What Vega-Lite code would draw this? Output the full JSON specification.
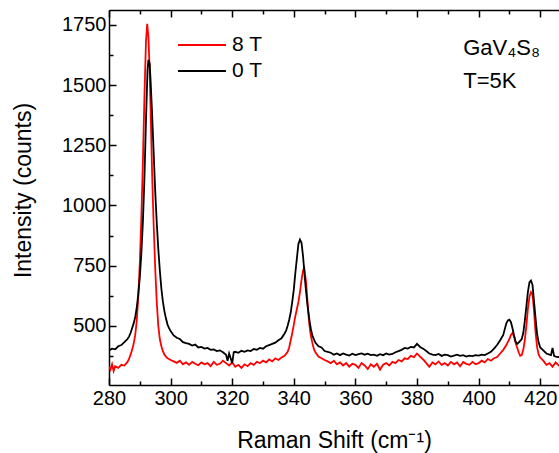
{
  "$schema": "https://vega.github.io/schema/vega-lite/v6.json",
  "width": 450,
  "height": 375,
  "autosize": "none",
  "padding": {"left": 109, "top": 10, "right": 0, "bottom": 68},
  "background": "white",
  "config": {"view": {"stroke": null}, "font": "Liberation Sans"},
  "data": {"values": [
    {"f":"0 T","x":280,"y":398},{"f":"0 T","x":281,"y":405},{"f":"0 T","x":282,"y":402},{"f":"0 T","x":283,"y":415},{"f":"0 T","x":284,"y":420},{"f":"0 T","x":285,"y":432},{"f":"0 T","x":286,"y":445},{"f":"0 T","x":286.5,"y":455},{"f":"0 T","x":287,"y":470},{"f":"0 T","x":287.5,"y":490},{"f":"0 T","x":288,"y":510},{"f":"0 T","x":288.5,"y":535},{"f":"0 T","x":289,"y":575},{"f":"0 T","x":289.5,"y":630},{"f":"0 T","x":290,"y":700},{"f":"0 T","x":290.5,"y":800},{"f":"0 T","x":291,"y":930},{"f":"0 T","x":291.5,"y":1110},{"f":"0 T","x":292,"y":1350},{"f":"0 T","x":292.5,"y":1560},{"f":"0 T","x":292.8,"y":1605},{"f":"0 T","x":293.2,"y":1590},{"f":"0 T","x":293.5,"y":1520},{"f":"0 T","x":294,"y":1380},{"f":"0 T","x":294.5,"y":1220},{"f":"0 T","x":295,"y":1060},{"f":"0 T","x":295.5,"y":930},{"f":"0 T","x":296,"y":820},{"f":"0 T","x":296.5,"y":730},{"f":"0 T","x":297,"y":655},{"f":"0 T","x":297.5,"y":600},{"f":"0 T","x":298,"y":560},{"f":"0 T","x":298.5,"y":530},{"f":"0 T","x":299,"y":505},{"f":"0 T","x":299.5,"y":490},{"f":"0 T","x":300,"y":478},{"f":"0 T","x":301,"y":460},{"f":"0 T","x":302,"y":450},{"f":"0 T","x":303,"y":445},{"f":"0 T","x":304,"y":432},{"f":"0 T","x":305,"y":428},{"f":"0 T","x":306,"y":425},{"f":"0 T","x":307,"y":418},{"f":"0 T","x":308,"y":422},{"f":"0 T","x":309,"y":410},{"f":"0 T","x":310,"y":412},{"f":"0 T","x":311,"y":405},{"f":"0 T","x":312,"y":408},{"f":"0 T","x":313,"y":400},{"f":"0 T","x":314,"y":402},{"f":"0 T","x":315,"y":395},{"f":"0 T","x":316,"y":398},{"f":"0 T","x":317,"y":390},{"f":"0 T","x":318,"y":380},{"f":"0 T","x":318.5,"y":355},{"f":"0 T","x":319,"y":385},{"f":"0 T","x":319.5,"y":365},{"f":"0 T","x":320,"y":345},{"f":"0 T","x":320.5,"y":390},{"f":"0 T","x":321,"y":392},{"f":"0 T","x":322,"y":388},{"f":"0 T","x":323,"y":396},{"f":"0 T","x":324,"y":392},{"f":"0 T","x":325,"y":398},{"f":"0 T","x":326,"y":395},{"f":"0 T","x":327,"y":404},{"f":"0 T","x":328,"y":400},{"f":"0 T","x":329,"y":408},{"f":"0 T","x":330,"y":405},{"f":"0 T","x":331,"y":415},{"f":"0 T","x":332,"y":420},{"f":"0 T","x":333,"y":425},{"f":"0 T","x":334,"y":430},{"f":"0 T","x":335,"y":440},{"f":"0 T","x":336,"y":448},{"f":"0 T","x":337,"y":468},{"f":"0 T","x":337.5,"y":480},{"f":"0 T","x":338,"y":500},{"f":"0 T","x":338.5,"y":525},{"f":"0 T","x":339,"y":555},{"f":"0 T","x":339.5,"y":600},{"f":"0 T","x":340,"y":650},{"f":"0 T","x":340.5,"y":720},{"f":"0 T","x":341,"y":780},{"f":"0 T","x":341.5,"y":840},{"f":"0 T","x":342,"y":858},{"f":"0 T","x":342.5,"y":845},{"f":"0 T","x":343,"y":790},{"f":"0 T","x":343.5,"y":710},{"f":"0 T","x":344,"y":640},{"f":"0 T","x":344.5,"y":580},{"f":"0 T","x":345,"y":530},{"f":"0 T","x":345.5,"y":490},{"f":"0 T","x":346,"y":460},{"f":"0 T","x":346.5,"y":445},{"f":"0 T","x":347,"y":430},{"f":"0 T","x":348,"y":415},{"f":"0 T","x":349,"y":410},{"f":"0 T","x":350,"y":395},{"f":"0 T","x":351,"y":392},{"f":"0 T","x":352,"y":388},{"f":"0 T","x":353,"y":380},{"f":"0 T","x":354,"y":385},{"f":"0 T","x":355,"y":378},{"f":"0 T","x":356,"y":385},{"f":"0 T","x":357,"y":380},{"f":"0 T","x":358,"y":376},{"f":"0 T","x":359,"y":384},{"f":"0 T","x":360,"y":378},{"f":"0 T","x":361,"y":382},{"f":"0 T","x":362,"y":385},{"f":"0 T","x":363,"y":380},{"f":"0 T","x":364,"y":384},{"f":"0 T","x":365,"y":378},{"f":"0 T","x":366,"y":380},{"f":"0 T","x":367,"y":375},{"f":"0 T","x":368,"y":382},{"f":"0 T","x":369,"y":378},{"f":"0 T","x":370,"y":385},{"f":"0 T","x":371,"y":380},{"f":"0 T","x":372,"y":383},{"f":"0 T","x":373,"y":390},{"f":"0 T","x":374,"y":395},{"f":"0 T","x":375,"y":400},{"f":"0 T","x":376,"y":408},{"f":"0 T","x":377,"y":405},{"f":"0 T","x":378,"y":412},{"f":"0 T","x":379,"y":410},{"f":"0 T","x":380,"y":425},{"f":"0 T","x":381,"y":412},{"f":"0 T","x":382,"y":405},{"f":"0 T","x":383,"y":395},{"f":"0 T","x":384,"y":385},{"f":"0 T","x":385,"y":380},{"f":"0 T","x":386,"y":378},{"f":"0 T","x":387,"y":383},{"f":"0 T","x":388,"y":375},{"f":"0 T","x":389,"y":380},{"f":"0 T","x":390,"y":378},{"f":"0 T","x":391,"y":372},{"f":"0 T","x":392,"y":376},{"f":"0 T","x":393,"y":380},{"f":"0 T","x":394,"y":375},{"f":"0 T","x":395,"y":378},{"f":"0 T","x":396,"y":372},{"f":"0 T","x":397,"y":376},{"f":"0 T","x":398,"y":374},{"f":"0 T","x":399,"y":378},{"f":"0 T","x":400,"y":376},{"f":"0 T","x":401,"y":380},{"f":"0 T","x":402,"y":378},{"f":"0 T","x":403,"y":385},{"f":"0 T","x":404,"y":392},{"f":"0 T","x":405,"y":405},{"f":"0 T","x":406,"y":420},{"f":"0 T","x":407,"y":440},{"f":"0 T","x":408,"y":462},{"f":"0 T","x":409,"y":510},{"f":"0 T","x":409.5,"y":522},{"f":"0 T","x":410,"y":525},{"f":"0 T","x":410.5,"y":515},{"f":"0 T","x":411,"y":490},{"f":"0 T","x":411.5,"y":460},{"f":"0 T","x":412,"y":435},{"f":"0 T","x":412.5,"y":425},{"f":"0 T","x":413,"y":430},{"f":"0 T","x":414,"y":445},{"f":"0 T","x":414.5,"y":470},{"f":"0 T","x":415,"y":520},{"f":"0 T","x":415.5,"y":580},{"f":"0 T","x":416,"y":640},{"f":"0 T","x":416.5,"y":680},{"f":"0 T","x":417,"y":688},{"f":"0 T","x":417.5,"y":670},{"f":"0 T","x":418,"y":600},{"f":"0 T","x":418.5,"y":530},{"f":"0 T","x":419,"y":465},{"f":"0 T","x":419.5,"y":430},{"f":"0 T","x":420,"y":410},{"f":"0 T","x":421,"y":398},{"f":"0 T","x":422,"y":385},{"f":"0 T","x":423,"y":380},{"f":"0 T","x":423.5,"y":378},{"f":"0 T","x":424,"y":408},{"f":"0 T","x":424.5,"y":375},{"f":"0 T","x":425,"y":372},{"f":"0 T","x":426,"y":370},{"f":"0 T","x":427,"y":372},
    {"f":"8 T","x":280,"y":330},{"f":"8 T","x":280.5,"y":318},{"f":"8 T","x":281,"y":340},{"f":"8 T","x":281.5,"y":312},{"f":"8 T","x":282,"y":332},{"f":"8 T","x":283,"y":325},{"f":"8 T","x":284,"y":338},{"f":"8 T","x":285,"y":335},{"f":"8 T","x":286,"y":350},{"f":"8 T","x":286.5,"y":362},{"f":"8 T","x":287,"y":380},{"f":"8 T","x":287.5,"y":400},{"f":"8 T","x":288,"y":425},{"f":"8 T","x":288.5,"y":460},{"f":"8 T","x":289,"y":520},{"f":"8 T","x":289.5,"y":620},{"f":"8 T","x":290,"y":760},{"f":"8 T","x":290.5,"y":950},{"f":"8 T","x":291,"y":1180},{"f":"8 T","x":291.5,"y":1450},{"f":"8 T","x":292,"y":1680},{"f":"8 T","x":292.4,"y":1755},{"f":"8 T","x":292.8,"y":1700},{"f":"8 T","x":293.2,"y":1560},{"f":"8 T","x":293.6,"y":1350},{"f":"8 T","x":294,"y":1130},{"f":"8 T","x":294.5,"y":920},{"f":"8 T","x":295,"y":740},{"f":"8 T","x":295.5,"y":600},{"f":"8 T","x":296,"y":500},{"f":"8 T","x":296.5,"y":445},{"f":"8 T","x":297,"y":415},{"f":"8 T","x":297.5,"y":395},{"f":"8 T","x":298,"y":380},{"f":"8 T","x":298.5,"y":372},{"f":"8 T","x":299,"y":365},{"f":"8 T","x":299.5,"y":362},{"f":"8 T","x":300,"y":358},{"f":"8 T","x":301,"y":352},{"f":"8 T","x":302,"y":346},{"f":"8 T","x":303,"y":355},{"f":"8 T","x":304,"y":340},{"f":"8 T","x":305,"y":348},{"f":"8 T","x":306,"y":338},{"f":"8 T","x":307,"y":350},{"f":"8 T","x":308,"y":342},{"f":"8 T","x":309,"y":336},{"f":"8 T","x":310,"y":348},{"f":"8 T","x":311,"y":340},{"f":"8 T","x":312,"y":345},{"f":"8 T","x":313,"y":332},{"f":"8 T","x":314,"y":350},{"f":"8 T","x":315,"y":338},{"f":"8 T","x":316,"y":342},{"f":"8 T","x":317,"y":355},{"f":"8 T","x":318,"y":345},{"f":"8 T","x":319,"y":335},{"f":"8 T","x":320,"y":348},{"f":"8 T","x":321,"y":330},{"f":"8 T","x":322,"y":338},{"f":"8 T","x":323,"y":325},{"f":"8 T","x":324,"y":340},{"f":"8 T","x":325,"y":332},{"f":"8 T","x":326,"y":345},{"f":"8 T","x":327,"y":338},{"f":"8 T","x":328,"y":350},{"f":"8 T","x":329,"y":345},{"f":"8 T","x":330,"y":355},{"f":"8 T","x":331,"y":348},{"f":"8 T","x":332,"y":360},{"f":"8 T","x":333,"y":352},{"f":"8 T","x":334,"y":365},{"f":"8 T","x":335,"y":358},{"f":"8 T","x":336,"y":368},{"f":"8 T","x":337,"y":375},{"f":"8 T","x":338,"y":392},{"f":"8 T","x":338.5,"y":410},{"f":"8 T","x":339,"y":440},{"f":"8 T","x":339.5,"y":470},{"f":"8 T","x":340,"y":505},{"f":"8 T","x":340.5,"y":540},{"f":"8 T","x":341,"y":570},{"f":"8 T","x":341.5,"y":600},{"f":"8 T","x":342,"y":640},{"f":"8 T","x":342.5,"y":690},{"f":"8 T","x":343,"y":730},{"f":"8 T","x":343.4,"y":740},{"f":"8 T","x":344,"y":680},{"f":"8 T","x":344.5,"y":590},{"f":"8 T","x":345,"y":510},{"f":"8 T","x":345.5,"y":460},{"f":"8 T","x":346,"y":430},{"f":"8 T","x":346.5,"y":405},{"f":"8 T","x":347,"y":390},{"f":"8 T","x":348,"y":372},{"f":"8 T","x":349,"y":365},{"f":"8 T","x":350,"y":358},{"f":"8 T","x":351,"y":352},{"f":"8 T","x":352,"y":345},{"f":"8 T","x":353,"y":355},{"f":"8 T","x":354,"y":340},{"f":"8 T","x":355,"y":348},{"f":"8 T","x":356,"y":335},{"f":"8 T","x":357,"y":345},{"f":"8 T","x":358,"y":330},{"f":"8 T","x":359,"y":342},{"f":"8 T","x":360,"y":338},{"f":"8 T","x":361,"y":325},{"f":"8 T","x":362,"y":345},{"f":"8 T","x":363,"y":335},{"f":"8 T","x":364,"y":320},{"f":"8 T","x":365,"y":340},{"f":"8 T","x":366,"y":330},{"f":"8 T","x":367,"y":342},{"f":"8 T","x":368,"y":318},{"f":"8 T","x":369,"y":338},{"f":"8 T","x":370,"y":345},{"f":"8 T","x":371,"y":335},{"f":"8 T","x":372,"y":350},{"f":"8 T","x":373,"y":345},{"f":"8 T","x":374,"y":358},{"f":"8 T","x":375,"y":352},{"f":"8 T","x":376,"y":365},{"f":"8 T","x":377,"y":362},{"f":"8 T","x":378,"y":375},{"f":"8 T","x":379,"y":370},{"f":"8 T","x":380,"y":385},{"f":"8 T","x":381,"y":372},{"f":"8 T","x":382,"y":360},{"f":"8 T","x":383,"y":345},{"f":"8 T","x":384,"y":330},{"f":"8 T","x":385,"y":348},{"f":"8 T","x":386,"y":340},{"f":"8 T","x":387,"y":352},{"f":"8 T","x":388,"y":338},{"f":"8 T","x":389,"y":345},{"f":"8 T","x":390,"y":335},{"f":"8 T","x":391,"y":350},{"f":"8 T","x":392,"y":340},{"f":"8 T","x":393,"y":348},{"f":"8 T","x":394,"y":332},{"f":"8 T","x":395,"y":350},{"f":"8 T","x":396,"y":342},{"f":"8 T","x":397,"y":338},{"f":"8 T","x":398,"y":350},{"f":"8 T","x":399,"y":340},{"f":"8 T","x":400,"y":345},{"f":"8 T","x":401,"y":355},{"f":"8 T","x":402,"y":348},{"f":"8 T","x":403,"y":362},{"f":"8 T","x":404,"y":355},{"f":"8 T","x":405,"y":365},{"f":"8 T","x":406,"y":370},{"f":"8 T","x":407,"y":385},{"f":"8 T","x":408,"y":400},{"f":"8 T","x":409,"y":420},{"f":"8 T","x":410,"y":445},{"f":"8 T","x":410.5,"y":462},{"f":"8 T","x":411,"y":470},{"f":"8 T","x":411.5,"y":455},{"f":"8 T","x":412,"y":430},{"f":"8 T","x":412.5,"y":410},{"f":"8 T","x":413,"y":390},{"f":"8 T","x":413.5,"y":375},{"f":"8 T","x":414,"y":378},{"f":"8 T","x":414.5,"y":400},{"f":"8 T","x":415,"y":440},{"f":"8 T","x":415.5,"y":500},{"f":"8 T","x":416,"y":570},{"f":"8 T","x":416.5,"y":620},{"f":"8 T","x":417,"y":640},{"f":"8 T","x":417.5,"y":630},{"f":"8 T","x":418,"y":560},{"f":"8 T","x":418.5,"y":470},{"f":"8 T","x":419,"y":410},{"f":"8 T","x":419.5,"y":380},{"f":"8 T","x":420,"y":368},{"f":"8 T","x":421,"y":355},{"f":"8 T","x":422,"y":338},{"f":"8 T","x":423,"y":345},{"f":"8 T","x":424,"y":330},{"f":"8 T","x":425,"y":348},{"f":"8 T","x":426,"y":335},{"f":"8 T","x":427,"y":340}
  ]},
  "layer": [
    {
      "transform": [{"filter": "datum.f === '8 T'"}],
      "mark": {"type": "line", "strokeWidth": 1.8, "clip": true},
      "encoding": {
        "x": {"field": "x", "type": "quantitative",
          "scale": {"domain": [280, 426.1], "nice": false, "zero": false},
          "axis": {"orient": "bottom", "values": [280,290,300,310,320,330,340,350,360,370,380,390,400,410,420],
            "format": "d", "labelFlush": false, "labelOverlap": false,
            "labelExpr": "datum.value % 20 === 0 ? datum.label : ''",
            "tickSize": {"condition": {"test": "datum.value % 20 === 0", "value": -7}, "value": -4},
            "tickWidth": 1.5, "tickColor": "black", "domainColor": "black", "domainWidth": 1.5,
            "labelFontSize": 20, "labelFont": "Liberation Sans", "labelColor": "black", "labelPadding": 10,
            "grid": false, "title": "Raman Shift (cm⁻¹)", "titleFontSize": 23, "titleFont": "Liberation Sans",
            "titleFontWeight": "normal", "titleColor": "black", "titleX": 225, "titleY": 62, "titleBaseline": "alphabetic", "titleAnchor": "middle"}},
        "y": {"field": "y", "type": "quantitative",
          "scale": {"domain": [254, 1812], "nice": false, "zero": false},
          "axis": {"orient": "left", "values": [375,500,625,750,875,1000,1125,1250,1375,1500,1625,1750],
            "format": "d", "labelFlush": false, "labelOverlap": false,
            "labelExpr": "datum.value % 250 === 0 ? datum.label : ''",
            "tickSize": {"condition": {"test": "datum.value % 250 === 0", "value": -7}, "value": -4},
            "tickWidth": 1.5, "tickColor": "black", "domainColor": "black", "domainWidth": 1.5,
            "labelFontSize": 20, "labelFont": "Liberation Sans", "labelColor": "black", "labelPadding": 10,
            "grid": false, "title": "Intensity (counts)", "titleFontSize": 23, "titleFont": "Liberation Sans",
            "titleFontWeight": "normal", "titleColor": "black", "titleX": -86, "titleY": 180, "titleBaseline": "middle", "titleAngle": -90, "titleAnchor": "middle"}},
        "color": {"field": "f", "type": "nominal",
          "scale": {"domain": ["8 T", "0 T"], "range": ["#ff0000", "#000000"]},
          "legend": {"orient": "none", "legendX": 68, "legendY": 22, "title": null, "symbolType": "stroke",
            "symbolSize": 2304, "symbolStrokeWidth": 2, "clipHeight": 26, "rowPadding": 0, "padding": 0,
            "labelFontSize": 21, "labelFont": "Liberation Sans", "labelColor": "black", "labelOffset": 5}}
      }
    },
    {
      "transform": [{"filter": "datum.f === '0 T'"}],
      "mark": {"type": "line", "strokeWidth": 1.8, "clip": true},
      "encoding": {
        "x": {"field": "x", "type": "quantitative",
          "axis": {"orient": "top", "values": [280,290,300,310,320,330,340,350,360,370,380,390,400,410,420],
            "labels": false, "title": null, "grid": false,
            "tickSize": {"condition": {"test": "datum.value % 20 === 0", "value": -7}, "value": -4},
            "tickWidth": 1.5, "tickColor": "black", "domainColor": "black", "domainWidth": 1.5}},
        "y": {"field": "y", "type": "quantitative", "axis": null},
        "color": {"field": "f", "type": "nominal"}
      }
    },
    {
      "data": {"values": [{"label": "GaV₄S₈"}]},
      "mark": {"type": "text", "align": "left", "baseline": "middle", "fontSize": 22, "font": "Liberation Sans", "color": "black"},
      "encoding": {
        "x": {"datum": 395, "type": "quantitative", "axis": null},
        "y": {"datum": 1654, "type": "quantitative", "axis": null},
        "text": {"field": "label"}
      }
    },
    {
      "data": {"values": [{"label": "T=5K"}]},
      "mark": {"type": "text", "align": "left", "baseline": "middle", "fontSize": 22, "font": "Liberation Sans", "color": "black"},
      "encoding": {
        "x": {"datum": 395, "type": "quantitative", "axis": null},
        "y": {"datum": 1517, "type": "quantitative", "axis": null},
        "text": {"field": "label"}
      }
    }
  ],
  "resolve": {"axis": {"x": "independent", "y": "independent"}}
}
